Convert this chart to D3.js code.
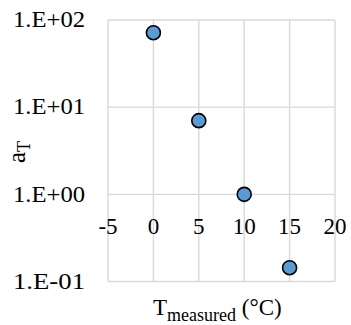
<!DOCTYPE html>
<html><head><meta charset="utf-8">
<script src="https://cdn.jsdelivr.net/npm/d3@7"></script>
<style>body{margin:0;background:#fff}svg{display:block}</style>
</head><body><svg id="c" width="351" height="325"></svg>
<script>
const temps = [0, 5, 10, 15];
const aT = [71.5, 7.0, 1.0, 0.144];
const xTicks = [-5, 0, 5, 10, 15, 20];
const yTicks = [100, 10, 1, 0.1];
const yTickLabels = ["1.E+02", "1.E+01", "1.E+00", "1.E-01"];
const FONT = "Liberation Serif";

const svg = d3.select("#c");
const x = d3.scaleLinear().domain([-5, 20]).range([108, 335]);
const y = d3.scaleLog().domain([0.1, 100]).range([281.5, 20]);

const grid = svg.append("g").attr("stroke", "#d9d9d9").attr("stroke-width", 1.4);
xTicks.forEach(t => grid.append("line").attr("x1", x(t)).attr("x2", x(t)).attr("y1", y(100)).attr("y2", y(0.1)));
yTicks.forEach(t => grid.append("line").attr("x1", x(-5)).attr("x2", x(20)).attr("y1", y(t)).attr("y2", y(t)));

yTicks.forEach((t, i) => svg.append("text").attr("x", 85).attr("y", y(t) + 7.3)
  .attr("font-family", FONT).attr("text-anchor", "end").attr("font-size", 23)
  .attr("textLength", 72).attr("lengthAdjust", "spacingAndGlyphs").text(yTickLabels[i]));

xTicks.forEach(t => svg.append("text").attr("x", x(t)).attr("y", y(1) + 40)
  .attr("font-family", FONT).attr("text-anchor", "middle").attr("font-size", 23).text(t));

svg.append("g").selectAll("circle").data(temps).join("circle")
  .attr("cx", (d) => x(d)).attr("cy", (d, i) => y(aT[i])).attr("r", 7)
  .attr("fill", "#5b9bd5").attr("stroke", "#000").attr("stroke-width", 1.6);

const yl = svg.append("text").attr("transform", "translate(25,163) rotate(-90)")
  .attr("font-family", FONT).attr("text-anchor", "start").attr("font-size", 25);
yl.append("tspan").text("a");
yl.append("tspan").attr("font-size", 18).attr("dy", 5).text("T");

const xl = svg.append("text").attr("x", 153).attr("y", 315)
  .attr("font-family", FONT).attr("text-anchor", "start").attr("font-size", 23);
xl.append("tspan").text("T");
xl.append("tspan").attr("font-size", 18).attr("dy", 6).text("measured");
xl.append("tspan").attr("dy", -6).text(" (°C)");
</script></body></html>
